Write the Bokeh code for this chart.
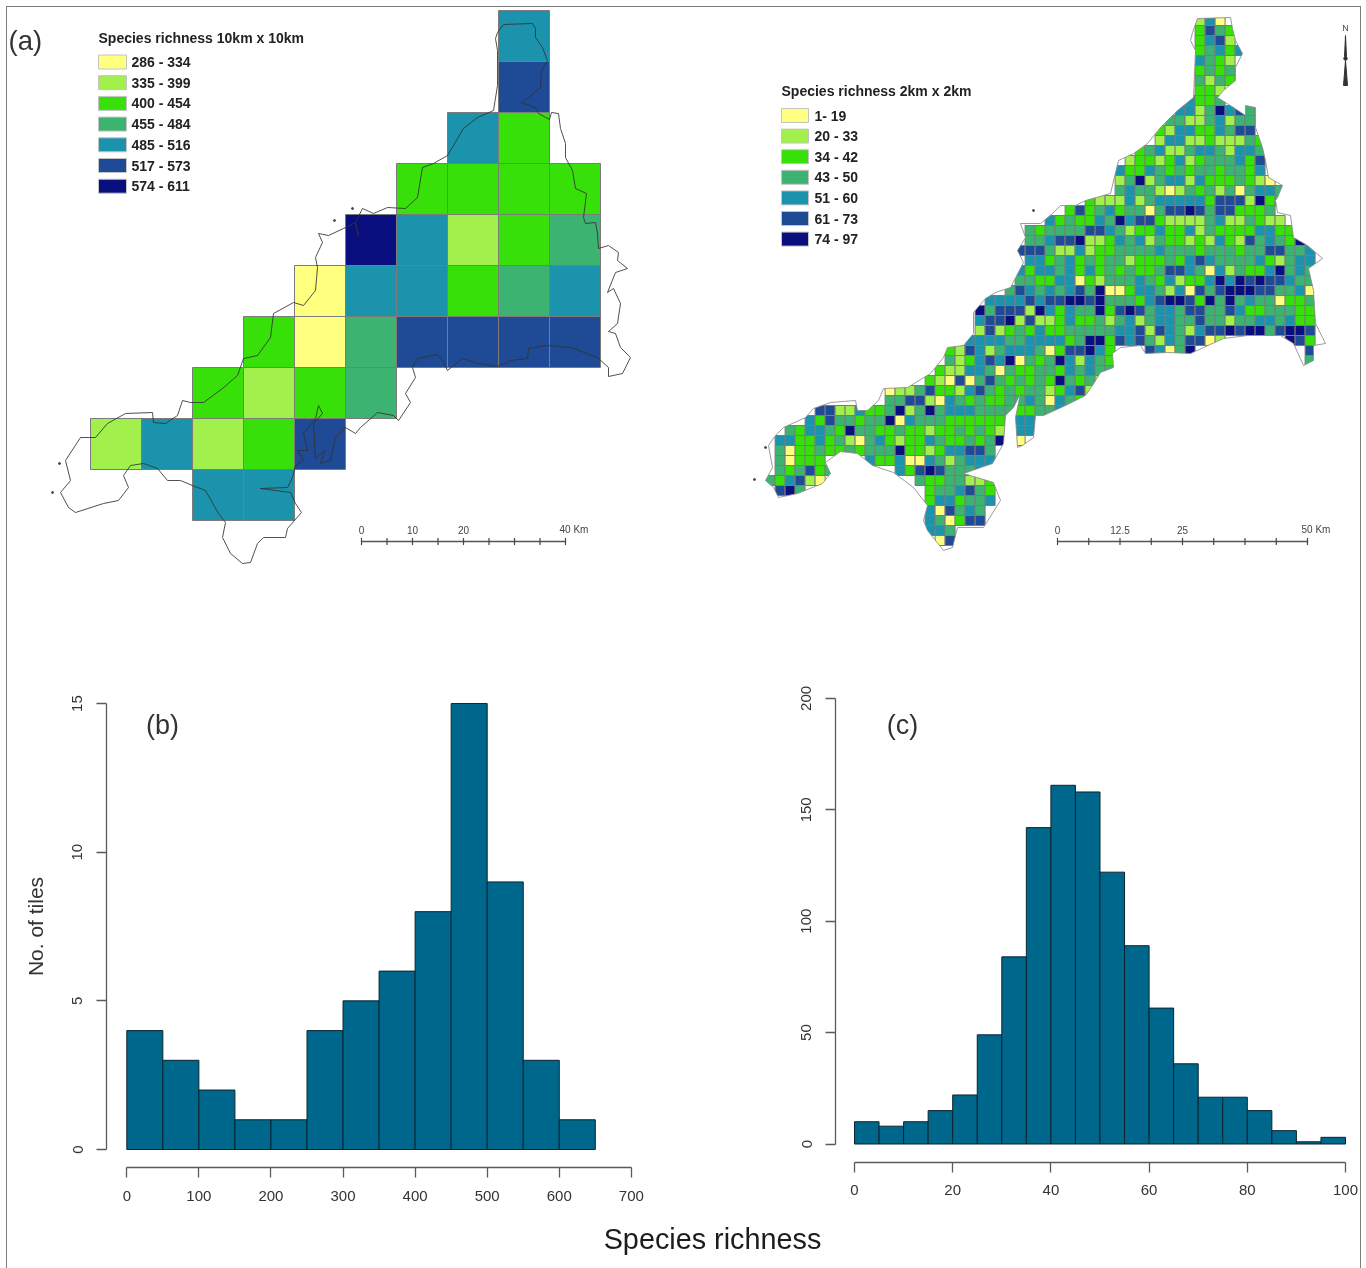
from bokeh.plotting import figure
from bokeh.layouts import column, row
from bokeh.models import Range1d, FixedTicker, Spacer
from bokeh.core.properties import value
from bokeh.embed import file_html
from bokeh.resources import INLINE

FONT = "Liberation Sans"
PALETTE = ["#FFFF80", "#A2F04C", "#38E00A", "#3CB371", "#1C93AD", "#1F4A96", "#0A0F80"]
SOFT = {"filter": "blur(0.5px)"}

# ---------- data ----------
LEGEND_A_TITLE = "Species richness 10km x 10km"
LEGEND_A = ["286 - 334", "335 - 399", "400 - 454", "455 - 484", "485 - 516", "517 - 573", "574 - 611"]
LEGEND_B_TITLE = "Species richness 2km x 2km"
LEGEND_B = ["1- 19", "20 - 33", "34 - 42", "43 - 50", "51 - 60", "61 - 73", "74 - 97"]

# 10 km tiles: (first column, class of each tile from there on; '.' = none), north to south
GRID_A = [
    (8, "4"), (8, "5"), (7, "42"), (6, "2222"), (5, "64123"), (4, "044234"),
    (3, "2035555"), (2, "2123"), (0, "14125"), (2, "44"),
]
# 2 km tiles, same coding
GRID_B = [
    (43, "140"), (43, "2532"), (43, "2451"), (43, "23424"), (43, "4321"), (43, "2323"),
    (43, "3132"), (43, "221"), (42, "4223"), (41, "44136453"), (40, "331134133"),
    (39, "2144224355"), (39, "14411211132"), (37, "2341134431443"), (36, "12212412333425"),
    (35, "422432323323324"), (35, "1361344142223210"), (35, "34331013231303443"),
    (32, "21114134444425551623"), (30, "252342330355653552223"),
    (28, "423224364552111134113211"), (26, "323333554312242241322224422"),
    (26, "3345561124341322121421534326"), (25, "555311412233334333233323355334"),
    (26, "44234232331222324543333421344"), (25, "424434242323223554304132246343"),
    (25, "332244021333432412246465655433"), (24, "3543434536002443140535666553340"),
    (22, "444454556656333245665263634330223"), (21, "6355516424336256534435533542233322"),
    (21, "4556151124223134134433533133443422"), (21, "1512324223333344515431455656635665"),
    (20, "44443344442366254531435501......652"),
    (18, "21541344430255642...54036...........54"),
    (18, "31245460323641432...................3"),
    (17, "211443032233243433"), (16, "210503532323263231"),
    (12, "0113522145323233124511"), (12, "335510432322334304326"),
    (5, "5511422361363444333322334"), (4, "42533233604333222222.44"),
    (2, "3244326332232212232321.44"), (1, "44224231034212243223236.0"),
    (1, "3022322323336221244553"), (1, "30222....4224004313444"),
    (1, "323523......4256533344"), (0, "324510.........32233112"),
    (1, "563............2334532"), (16, "2442334"), (16, "405343"), (16, "430255"),
    (16, "443"), (17, "05"),
]

# coastlines
COAST_A = [(497,32),(503,24),(532,23),(535,28),(535,37),(542,47),(547,60),(541,70),(540,87),(528,97),(521,102),
 (535,107),(538,113),(549,119),(551,112),(558,113),(560,128),(565,143),(565,157),(572,170),(575,188),(586,193),
 (583,217),(585,223),(595,222),(597,233),(598,248),(608,245),(618,252),(617,260),(627,268),(615,272),(607,292),
 (613,288),(620,303),(617,323),(608,331),(615,333),(620,347),(630,357),(622,373),(608,376),(608,367),(597,357),
 (570,347),(547,345),(528,348),(527,358),(510,360),(497,366),(477,363),(462,358),(447,370),(442,360),(437,354),
 (417,358),(412,367),(415,377),(405,393),(410,402),(398,420),(393,415),(377,412),(360,427),(355,433),(345,427),
 (335,437),(330,460),(320,463),(325,450),(315,458),(313,423),(322,413),(318,405),(315,418),(303,433),(307,450),
 (297,450),(303,460),(295,465),(292,477),(287,487),(260,488),(290,492),(295,503),(301,512),(287,528),(285,537),
 (263,537),(257,543),(250,562),(242,563),(230,553),(222,537),(225,522),(218,513),(205,490),(192,485),(180,480),
 (167,480),(157,468),(143,463),(130,465),(123,475),(128,487),(118,500),(103,503),(75,512),(68,507),(60,492),
 (70,480),(65,460),(80,437),(95,437),(107,423),(125,413),(152,412),(153,422),(165,423),(177,415),(182,400),
 (190,402),(203,402),(222,388),(237,375),(243,358),(257,355),(270,337),(273,313),(293,302),(303,305),(315,290),
 (317,267),(315,257),(322,242),(318,233),(328,235),(343,228),(355,222),(358,235),(355,222),(362,208),(373,213),
 (387,207),(405,208),(417,197),(422,167),(433,163),(447,155),(463,128),(477,117),(493,110),(497,85),(497,50),
 (495,38),(497,32)]
ISLETS_A = [(334,220),(52,492),(59,463),(352,208)]

COAST_B = [(1192,32),(1197,18),(1230,17),(1232,28),(1235,40),(1242,53),(1235,67),(1235,80),(1223,90),(1217,97),
 (1233,107),(1245,115),(1245,105),(1255,107),(1255,127),(1262,147),(1265,160),(1268,177),(1282,185),(1277,197),
 (1275,200),(1277,212),(1290,215),(1293,237),(1307,245),(1322,258),(1308,268),(1313,290),(1315,323),(1325,343),
 (1313,345),(1313,360),(1303,365),(1293,343),(1280,335),(1247,335),(1223,338),(1203,347),(1190,353),(1167,352),
 (1145,353),(1140,345),(1120,347),(1112,353),(1113,367),(1100,372),(1092,385),(1085,395),(1065,405),(1043,415),
 (1035,415),(1033,437),(1022,445),(1017,447),(1015,417),(1020,393),(1013,407),(1005,415),(1003,443),(992,463),
 (963,473),(993,482),(1000,500),(983,527),(957,527),(952,547),(943,550),(927,530),(923,520),(927,505),(913,487),
 (893,472),(872,465),(857,453),(840,451),(825,462),(830,473),(822,483),(797,493),(778,497),(773,487),(765,480),
 (772,467),(768,445),(775,435),(783,427),(805,417),(813,408),(830,402),(855,400),(857,410),(867,410),(878,400),
 (883,388),(907,387),(930,373),(943,357),(947,347),(963,345),(973,333),(973,312),(985,298),(995,292),(1010,287),
 (1023,262),(1017,250),(1025,237),(1020,223),(1040,223),(1052,213),(1060,205),(1075,205),(1085,200),(1110,193),
 (1118,160),(1133,153),(1147,143),(1160,127),(1177,110),(1193,97),(1195,50),(1190,40),(1192,32)]
ISLETS_B = [(754,479),(765,447),(1033,210)]

SCALE_A_LABELS = [(0, "0"), (10, "10"), (20, "20")]
SCALE_A_END = (40, "40 Km")
SCALE_B_LABELS = [(0, "0"), (12.5, "12.5"), (25, "25")]
SCALE_B_END = (50, "50 Km")

HIST_B_EDGES = [0, 50, 100, 150, 200, 250, 300, 350, 400, 450, 500, 550, 600, 650]
HIST_B_COUNTS = [4, 3, 2, 1, 1, 4, 5, 6, 8, 15, 9, 3, 1]
HIST_B_XTICKS = [0, 100, 200, 300, 400, 500, 600, 700]
HIST_B_YTICKS = [0, 5, 10, 15]

HIST_C_EDGES = [0, 5, 10, 15, 20, 25, 30, 35, 40, 45, 50, 55, 60, 65, 70, 75, 80, 85, 90, 95, 100]
HIST_C_COUNTS = [10, 8, 10, 15, 22, 49, 84, 142, 161, 158, 122, 89, 61, 36, 21, 21, 15, 6, 1, 3]
HIST_C_XTICKS = [0, 20, 40, 60, 80, 100]
HIST_C_YTICKS = [0, 50, 100, 150, 200]

BAR = "#00678C"
BAR_LINE = "#0B2430"
AXIS = "#5a5a5a"
TEXT = "#333333"
FRAME = "#7d7d7d"

# ---------- page geometry (picture pixels) ----------
LEFT, RIGHT, TOP = 7, 1360, 7
MID_X = 700
ROW1_B, ROW2_B, PAGE_B = 650, 1215, 1268


def blank(x0, x1, y0, y1, xr, yr):
    p = figure(width=x1 - x0, height=y1 - y0, x_range=xr, y_range=yr,
               output_backend="svg", toolbar_location=None, min_border=0,
               background_fill_color="white", border_fill_color="white", styles=SOFT)
    p.axis.visible = False
    p.grid.visible = False
    p.outline_line_color = None
    return p


def label(p, x, y, t, size, color=TEXT, bold=False, align="left"):
    p.text([x], [y], text=[t], text_font=value(FONT), text_font_size=f"{size}px",
           text_color=color, text_align=align, text_baseline="middle",
           text_font_style="bold" if bold else "normal")


class Map:
    """A map panel; km is the map unit, the picture scale gives px per km."""
    def __init__(self, x0, x1, scale):
        self.x0, self.scale = x0, scale
        self.p = blank(x0, x1, TOP, ROW1_B,
                       Range1d(0, (x1 - x0) / scale), Range1d(0, (ROW1_B - TOP) / scale))

    def X(self, px):
        return (px - self.x0) / self.scale

    def Y(self, py):
        return (ROW1_B - py) / self.scale


def draw_grid(m, grid, left_px, top_px, km, line_w):
    l, r, t, b, c = [], [], [], [], []
    for i, (start, s) in enumerate(grid):
        for j, ch in enumerate(s):
            if ch == ".":
                continue
            col = start + j
            x = m.X(left_px) + col * km
            y = m.Y(top_px) - i * km
            l.append(x); r.append(x + km); t.append(y); b.append(y - km)
            c.append(PALETTE[int(ch)])
    m.p.quad(left=l, right=r, top=t, bottom=b, fill_color=c, line_color="#7b7b7b", line_width=line_w)


def mask_outside(m, coast):
    """White out what lies beyond the coast, so the tiles end at the shoreline."""
    x0, x1 = m.X(m.x0), m.X(RIGHT)
    y0, y1 = m.Y(TOP), m.Y(ROW1_B)
    m.p.multi_polygons(
        xs=[[[[x0, x1, x1, x0], [m.X(a) for a, _ in coast]]]],
        ys=[[[[y0, y0, y1, y1], [m.Y(b) for _, b in coast]]]],
        fill_color="white", line_color=None)


def draw_coast(m, coast, islets, color, width):
    m.p.line([m.X(a) for a, _ in coast], [m.Y(b) for _, b in coast], line_color=color, line_width=width, line_alpha=0.85)
    m.p.scatter([m.X(a) for a, _ in islets], [m.Y(b) for _, b in islets], size=2, color="#444444")


def draw_legend(m, title, entries, x_px, title_y, first_y, step, sw_w, text_x):
    label(m.p, m.X(x_px), m.Y(title_y), title, 14, "#222222", True)
    for i, (e, col) in enumerate(zip(entries, PALETTE)):
        yy = first_y + i * step
        m.p.quad(left=[m.X(x_px)], right=[m.X(x_px + sw_w)], top=[m.Y(yy - 7)], bottom=[m.Y(yy + 7)],
                 fill_color=col, line_color="#c4c4c4", line_width=1)
        label(m.p, m.X(text_x), m.Y(yy), e, 14, "#222222", True)


def draw_scale(m, x_px, y_px, length, n, marks, end):
    x0 = m.X(x_px); y = m.Y(y_px); tick = 3.5 / m.scale
    m.p.line([x0, x0 + length], [y, y], line_color="#555555", line_width=1.3)
    xs = [x0 + length * k / n for k in range(n + 1)]
    m.p.segment(xs, [y - tick] * len(xs), xs, [y + tick] * len(xs), line_color="#444444", line_width=1.2)
    ly = m.Y(y_px - 12)
    for km, t in marks:
        label(m.p, x0 + km, ly, t, 10, "#444444", align="center")
    label(m.p, x0 + end[0] - 6 / m.scale, ly, end[1], 10, "#444444")


# ---------- map (a) ----------
A = Map(LEFT, MID_X, 5.1)
draw_grid(A, GRID_A, 90, 10, 10, 1)
draw_coast(A, COAST_A, ISLETS_A, "#333333", 1)
label(A.p, A.X(8), A.Y(39.5), "(a)", 27.5, TEXT)
draw_legend(A, LEGEND_A_TITLE, LEGEND_A, 98, 37.5, 61.5, 20.7, 28, 131)
draw_scale(A, 361, 541, 40, 8, SCALE_A_LABELS, SCALE_A_END)

# ---------- map (b) ----------
B = Map(MID_X, RIGHT, 5.0)
draw_grid(B, GRID_B, 764.6, 15, 2, 1)
mask_outside(B, COAST_B)
draw_coast(B, COAST_B, ISLETS_B, "#8a8a8a", 1)
draw_legend(B, LEGEND_B_TITLE, LEGEND_B, 781, 90.5, 115, 20.6, 27, 814)
draw_scale(B, 1057, 541, 50, 8, SCALE_B_LABELS, SCALE_B_END)
label(B.p, B.X(1345), B.Y(27), "N", 9, "#444444", align="center")
B.p.patch([B.X(a) for a in (1345, 1346, 1344)], [B.Y(b) for b in (35, 56, 56)], color="#333333")
B.p.patch([B.X(a) for a in (1345, 1347, 1343)], [B.Y(b) for b in (60, 85, 85)], color="#333333")
B.p.scatter([B.X(1345)], [B.Y(58)], size=3.5, color="#333333")


def hist(x0, x1, frame_l, frame_r, frame_t, frame_b, x_zero, x_per, y_zero, y_per, edges, counts, xt, yt, y_standoff, x_standoff):
    xr = Range1d((frame_l - x_zero) / x_per, (frame_r - x_zero) / x_per)
    yr = Range1d((y_zero - frame_b) / y_per, (y_zero - frame_t) / y_per)
    p = figure(width=x1 - x0, height=ROW2_B - ROW1_B, x_range=xr, y_range=yr,
               output_backend="svg", toolbar_location=None,
               min_border_left=frame_l - x0, min_border_right=x1 - frame_r,
               min_border_top=frame_t - ROW1_B, min_border_bottom=ROW2_B - frame_b,
               background_fill_color="white", border_fill_color="white", styles=SOFT)
    p.frame_align = False
    p.grid.visible = False
    p.outline_line_color = None
    p.quad(left=edges[:-1], right=edges[1:], bottom=0, top=counts,
           fill_color=BAR, line_color=BAR_LINE, line_width=1)
    for ax, ticks, st in ((p.xaxis[0], xt, x_standoff), (p.yaxis[0], yt, y_standoff)):
        ax.ticker = FixedTicker(ticks=ticks)
        ax.bounds = (ticks[0], ticks[-1])
        ax.minor_tick_line_color = None
        ax.major_tick_in = 0
        ax.major_tick_out = 10
        ax.axis_line_color = AXIS
        ax.major_tick_line_color = AXIS
        ax.axis_line_width = 1.3
        ax.major_tick_line_width = 1.3
        ax.major_label_text_font = FONT
        ax.major_label_text_font_size = "15px"
        ax.major_label_text_color = TEXT
        ax.major_label_standoff = st
    p.yaxis[0].major_label_orientation = "vertical"
    return p, lambda px: (px - x_zero) / x_per, lambda py: (y_zero - py) / y_per


# ---------- histogram (b) ----------
HB, bx, by = hist(LEFT, MID_X, 106, 640, 685, 1167, 126.3, 0.7208, 1149, 29.73,
                  HIST_B_EDGES, HIST_B_COUNTS, HIST_B_XTICKS, HIST_B_YTICKS, 14, 13)
HB.yaxis[0].axis_label = "No. of tiles"
HB.yaxis[0].axis_label_text_font = FONT
HB.yaxis[0].axis_label_text_font_style = "normal"
HB.yaxis[0].axis_label_text_font_size = "21px"
HB.yaxis[0].axis_label_text_color = TEXT
HB.yaxis[0].axis_label_standoff = 23
label(HB, bx(162), by(724), "(b)", 27, TEXT, align="center")

# ---------- histogram (c) ----------
HC, cx, cy = hist(MID_X, RIGHT, 835, 1352, 695, 1162, 854, 4.91, 1143.5, 2.228,
                  HIST_C_EDGES, HIST_C_COUNTS, HIST_C_XTICKS, HIST_C_YTICKS, 14, 12)
label(HC, cx(902), cy(724), "(c)", 27, TEXT, align="center")

# ---------- shared axis title ----------
LAB = blank(LEFT, RIGHT, ROW2_B, PAGE_B, Range1d(LEFT, RIGHT), Range1d(PAGE_B, ROW2_B))
label(LAB, 712, 1238, "Species richness", 28.8, "#1c1c1c", align="center")

inner = column(row(A.p, B.p), row(HB, HC), LAB)
top_pad = Spacer(width=1, height=TOP - 1)
top_line = Spacer(width=RIGHT - LEFT + 2, height=1, styles={"background-color": FRAME})
side_pad = Spacer(width=LEFT - 1, height=1)
side_pad2 = Spacer(width=LEFT - 1, height=1)
left_bar = Spacer(width=1, height=PAGE_B - TOP, styles={"background-color": FRAME})
right_bar = Spacer(width=1, height=PAGE_B - TOP, styles={"background-color": FRAME})
page = column(top_pad, row(side_pad, top_line), row(side_pad2, left_bar, inner, right_bar))

open("out.html", "w").write(file_html(page, INLINE))
